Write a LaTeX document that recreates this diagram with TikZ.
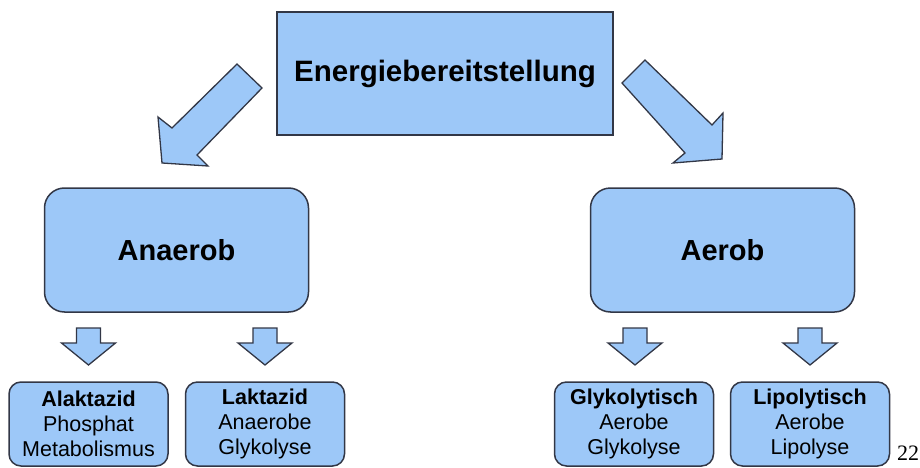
\documentclass[tikz,border=0pt]{standalone}
\usepackage{fontspec}
\setmainfont{Liberation Sans}
\newfontfamily\serifnum{Liberation Serif}
\definecolor{boxfill}{RGB}{157,200,248}
\definecolor{boxline}{RGB}{50,55,70}
\begin{document}
\begin{tikzpicture}[x=1pt,y=-1pt,
  box/.style={draw=boxline,fill=boxfill,line width=1.5pt,inner sep=0pt,align=center},
  bigbox/.style={box,rounded corners=20pt,minimum width=264pt,minimum height=124pt,font=\bfseries\fontsize{29}{32}\selectfont},
  smallbox/.style={box,rounded corners=12pt,minimum width=159pt,minimum height=84pt,font=\fontsize{21.5}{25}\selectfont},
  blockarrow/.style={draw=boxline,fill=boxfill,line width=1.3pt,line join=miter}]
\path[use as bounding box] (0,0) rectangle (920,468);

\node[box,minimum width=336pt,minimum height=123pt,font=\bfseries\fontsize{29.5}{32}\selectfont] (top) at (445,73.5) {Energiebereitstellung};

\node[bigbox] (anaerob) at (176.5,250) {Anaerob};
\node[bigbox] (aerob) at (722.5,250) {Aerob};

\node[smallbox] (alakt) at (88.5,424) {\textbf{Alaktazid}\\Phosphat\\Metabolismus};
\node[smallbox] (lakt) at (265,424) {\textbf{Laktazid}\\Anaerobe\\Glykolyse};
\node[smallbox] (glyk) at (634,424) {\textbf{Glykolytisch}\\Aerobe\\Glykolyse};
\node[smallbox] (lipo) at (810,424) {\textbf{Lipolytisch}\\Aerobe\\Lipolyse};

\node[font=\serifnum\fontsize{22}{24}\selectfont,inner sep=0pt,anchor=base] (page) at (908,460) {22};

% big diagonal block arrows
\draw[blockarrow] (237,64) -- (262,88) -- (197,155) -- (208,166) -- (162,163) -- (158,117) -- (172,128) -- cycle;
\draw[blockarrow] (645,60) -- (712,125) -- (723,113) -- (722,159) -- (673,163) -- (685,153) -- (622,83) -- cycle;

% small down arrows
\foreach \cx in {88.5,265,635,810}{
  \draw[blockarrow] (\cx-12,328) -- (\cx+12,328) -- (\cx+12,343) -- (\cx+27,343) -- (\cx,365) -- (\cx-27,343) -- (\cx-12,343) -- cycle;
}
\end{tikzpicture}
\end{document}
